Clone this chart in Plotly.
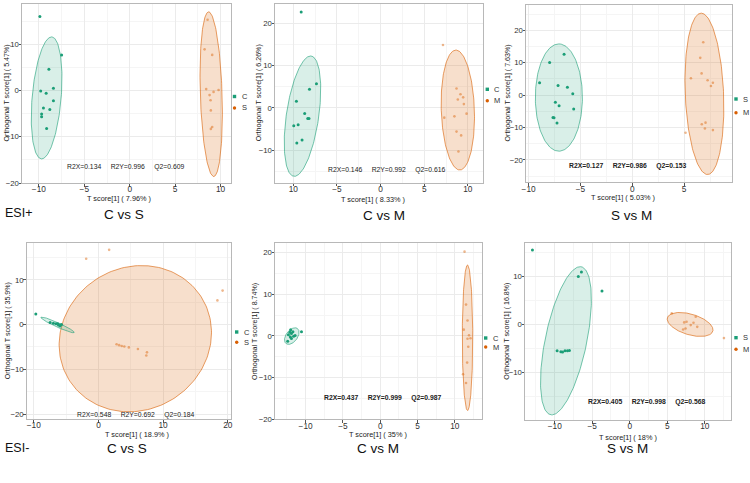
import numpy as np
import plotly.graph_objects as go

# ---------------- data ----------------
ROW_LABELS = ["ESI+", "ESI-"]
TITLES = ["C vs S", "C vs M", "S vs M", "C vs S", "C vs M", "S vs M"]
GROUPS = [["C", "S"], ["C", "M"], ["S", "M"], ["C", "S"], ["C", "M"], ["S", "M"]]
X_TITLES = ["T score[1] ( 7.96% )", "T score[1] ( 8.33% )", "T score[1] ( 5.03% )",
            "T score[1] ( 18.9% )", "T score[1] ( 35% )", "T score[1] ( 18% )"]
Y_TITLES = ["Orthogonal T score[1] ( 5.47%)", "Orthogonal T score[1] ( 6.26%)",
            "Orthogonal T score[1] ( 7.63%)", "Orthogonal T score[1] ( 35.9%)",
            "Orthogonal T score[1] ( 8.74%)", "Orthogonal T score[1] ( 16.8%)"]
R2X = [0.134, 0.146, 0.127, 0.548, 0.437, 0.405]
R2Y = [0.996, 0.992, 0.986, 0.692, 0.999, 0.998]
Q2 = [0.609, 0.616, 0.153, 0.184, 0.987, 0.568]

# panel 1: C vs S (ESI+)
P1_GX = [-9.89, -7.5, -8.9, -9.8, -9.2, -8.4, -8.4, -9.5, -8.8, -9.7, -9.7, -9.15]
P1_GY = [16.0, 7.7, 4.6, -0.1, -0.6, 0.5, -2.2, -3.8, -4.1, -5.1, -5.7, -8.2]
P1_OX = [8.57, 8.24, 9.08, 8.42, 9.78, 9.23, 8.79, 8.9, 8.93, 9.08, 8.93]
P1_OY = [15.3, 8.9, 7.7, 0.3, 0.1, -0.3, -1.0, -2.1, -4.3, -7.9, -8.3]
# ellipses: centre x, centre y, semi-major, semi-minor, angle (deg)
P1_GELL = [-9.15, -1.6, 13.2, 1.6, 87.6]
P1_OELL = [8.97, -0.8, 17.8, 1.2, 90.9]

# panel 2: C vs M (ESI+)
P2_GX = [-9.1, -7.35, -8.15, -9.65, -8.7, -8.35, -8.2, -9.45, -9.95, -9.0, -9.6]
P2_GY = [22.7, 5.7, 4.4, 1.6, -1.3, -2.5, -2.5, -4.0, -4.2, -7.6, -8.3]
P2_OX = [7.15, 8.7, 9.15, 8.85, 9.46, 9.54, 9.85, 8.46, 7.3, 8.7, 9.23, 8.92]
P2_OY = [14.9, 4.6, 3.25, 2.0, 2.5, 0.9, -1.35, -2.0, -2.3, -5.6, -6.5, -10.3]
P2_GELL = [-8.95, -1.95, 14.28, 1.87, 86.2]
P2_OELL = [8.85, -0.5, 14.2, 1.9, 90.9]

# panel 3: S vs M (ESI+)
P3_GX = [-6.58, -7.97, -8.94, -7.16, -6.26, -5.74, -7.42, -7.06, -5.65, -7.65, -7.55, -7.26]
P3_GY = [12.6, 10.1, 3.8, 3.0, 2.4, 0.4, -2.2, -3.3, -4.3, -6.9, -7.0, -8.6]
P3_OX = [6.84, 6.55, 6.68, 5.65, 7.26, 7.77, 7.58, 7.06, 6.7, 7.0, 7.77, 5.13]
P3_OY = [16.3, 11.5, 6.7, 5.2, 4.6, 3.8, 2.8, -8.5, -9.0, -10.3, -10.8, -11.6]
P3_GELL = [-7.08, -0.75, 16.55, 2.27, 90.0]
P3_OELL = [6.95, 0.4, 24.9, 1.85, 90.7]

# panel 4: C vs S (ESI-)
P4_GX = [-9.69, -7.48, -6.97, -6.55, -6.19, -5.93, -5.73, -6.3, -6.0]
P4_GY = [2.39, 0.45, 0.31, 0.16, -0.07, -0.29, 0.0, 0.2, -0.1]
P4_OX = [-1.9, 1.65, 19.2, 18.4, 2.8, 3.2, 3.6, 4.0, 4.7, 6.1, 7.5, 7.4]
P4_OY = [14.7, 16.7, 7.6, 5.4, -4.4, -4.6, -4.8, -4.9, -5.1, -5.45, -6.2, -6.9]
P4_GELL = [-6.33, -0.07, 3.09, 0.45, -33.8]
P4_OELL = [5.7, -3.15, 16.4, 11.7, 83.0]

# panel 5: C vs M (ESI-)
P5_GX = [-12.3, -12.1, -12.0, -11.9, -11.7, -12.05, -11.6, -11.9, -12.4, -11.4, -10.55]
P5_GY = [0.3, 0.9, 1.5, 0.55, 1.0, -0.25, -0.1, -0.6, -1.3, 0.1, 1.0]
P5_OX = [11.3, 11.5, 11.7, 11.2, 11.9, 12.1, 11.7, 11.8, 11.65, 11.1, 11.5]
P5_OY = [20.2, 7.5, 3.7, 1.5, 0.15, -0.55, -0.7, -2.6, -6.4, -9.2, -11.3]
P5_GELL = [-11.85, -0.05, 2.05, 0.85, 75.0]
P5_OELL = [11.7, -0.45, 17.45, 0.7, 90.0]

# panel 6: S vs M (ESI-)
P6_GX = [-12.97, -6.44, -6.85, -3.7, -9.68, -9.18, -8.95, -8.63, -8.3, -8.04]
P6_GY = [15.5, 10.9, 10.0, 6.95, -5.46, -5.67, -5.74, -5.46, -5.46, -5.4]
P6_OX = [7.26, 7.58, 8.13, 8.5, 8.8, 9.0, 7.44, 7.12, 5.6, 12.56]
P6_OY = [0.43, 0.57, -0.14, 0.35, 1.6, -0.5, -0.85, -1.06, 2.3, -2.84]
P6_GELL = [-8.5, -3.4, 15.55, 2.8, 82.8]
P6_OELL = [8.05, 0.0, 3.4, 2.0, -33.0]

# tick values / labels
X_TICKS = [[-10, -5, 0, 5, 10], [-10, -5, 0, 5, 10], [-10, -5, 0, 5],
           [-10, 0, 10, 20], [-10, -5, 0, 5, 10], [-10, -5, 0, 5, 10]]
X_TICKTEXT = [["−10", "−5", "0", "5", "10"], ["10", "−5", "0", "5", "10"],
              ["−10", "−5", "0", "5"], ["−10", "0", "10", "20"],
              ["−10", "−5", "0", "5", "10"], ["−10", "−5", "0", "5", "10"]]
Y_TICKS = [[-20, -10, 0, 10], [-10, 0, 10, 20], [-20, -10, 0, 10, 20],
           [-20, -10, 0, 10], [-20, -10, 0, 10, 20], [-10, 0, 10]]
Y_TICKTEXT = [["−20", "−10", "0", "10"], ["−10", "0", "10", "20"],
              ["−20", "−10", "0", "10", "20"], ["−20", "−10", "0", "10"],
              ["−20", "−10", "0", "10", "20"], ["−10", "0", "10"]]

# ---------------- layout (pixels) ----------------
W, H = 750, 483
X_RANGES = [[-11.86, 11.15], [-12.1, 11.7], [-10.25, 9.64], [-11.1, 20.5], [-14.1, 13.6], [-13.96, 13.5]]
Y_RANGES = [[-20, 18.7], [-17.7, 24.6], [-26.9, 27.9], [-21.1, 18.3], [-20, 22.2], [-19.9, 16.9]]
BOXES = [(22, 231, 4, 183), (275, 482.7, 4, 182.7), (526, 732.3, 4.7, 182.3),
         (26.7, 231, 242.7, 419), (275, 481.7, 243.3, 419.3), (525, 731, 243.3, 420)]
STAT_POS = [(-0.4, -16.6), (0.7, -14.7), (-0.42, -21.9), (5.8, -20.2), (0.32, -14.9), (2.28, -16.2)]
STAT_BOLD = [False, False, True, False, True, True]
XT_POS = [(119, 199), (373, 200), (623, 197), (137, 434), (378, 434), (628, 437)]
YT_X = [7, 259, 508, 8.3, 255.7, 507]
TITLE_POS = [(124, 214), (383.5, 215), (631, 215), (126.7, 448.3), (378.3, 448.3), (627, 448.3)]
LEG_POS = [(234.5, 96.5, 108), (487.3, 89.3, 100.7), (736, 99, 112.7),
           (236.7, 332, 342.3), (485.7, 338, 347), (736, 337.7, 349.3)]

GREEN = "#1B9E77"
ORANGE = "#D95F02"
FONT = "Liberation Sans, Arial, sans-serif"

GX = [P1_GX, P2_GX, P3_GX, P4_GX, P5_GX, P6_GX]
GY = [P1_GY, P2_GY, P3_GY, P4_GY, P5_GY, P6_GY]
OX = [P1_OX, P2_OX, P3_OX, P4_OX, P5_OX, P6_OX]
OY = [P1_OY, P2_OY, P3_OY, P4_OY, P5_OY, P6_OY]
GELL = [P1_GELL, P2_GELL, P3_GELL, P4_GELL, P5_GELL, P6_GELL]
OELL = [P1_OELL, P2_OELL, P3_OELL, P4_OELL, P5_OELL, P6_OELL]


def ellipse(p, n=180):
    cx, cy, a, b, ang = p
    t = np.linspace(0, 2 * np.pi, n)
    phi = np.deg2rad(ang)
    x = cx + a * np.cos(t) * np.cos(phi) - b * np.sin(t) * np.sin(phi)
    y = cy + a * np.cos(t) * np.sin(phi) + b * np.sin(t) * np.cos(phi)
    return x, y


def px(x):
    return x / W


def py(y):
    return 1 - y / H


def minor_vals(ticks):
    step = ticks[1] - ticks[0]
    out = []
    for v in range(-4, len(ticks) + 4):
        out.append(ticks[0] + (v + 0.5) * step)
    return out


def note(x, y, text, size, color="#222", xanchor="center", angle=0, xref="paper", yref="paper"):
    return dict(x=x, y=y, xref=xref, yref=yref, text=text, showarrow=False,
                xanchor=xanchor, yanchor="middle", textangle=angle,
                font=dict(family=FONT, size=size, color=color))


fig = go.Figure()
annotations = []
shapes = []

for i in range(6):
    k = "" if i == 0 else str(i + 1)
    xa, ya = "x" + k, "y" + k
    # ellipses (orange first, green on top)
    ex, ey = ellipse(OELL[i])
    fig.add_trace(go.Scatter(x=ex, y=ey, mode="lines", fill="toself",
                             fillcolor="rgba(217,95,2,0.2)",
                             line=dict(color="rgba(217,95,2,0.6)", width=1),
                             hoverinfo="skip", showlegend=False, xaxis=xa, yaxis=ya))
    ex, ey = ellipse(GELL[i])
    fig.add_trace(go.Scatter(x=ex, y=ey, mode="lines", fill="toself",
                             fillcolor="rgba(27,158,119,0.17)",
                             line=dict(color="rgba(27,158,119,0.6)", width=1),
                             hoverinfo="skip", showlegend=False, xaxis=xa, yaxis=ya))
    fig.add_trace(go.Scatter(x=OX[i], y=OY[i], mode="markers",
                             marker=dict(color="rgba(217,95,2,0.45)", size=2.6),
                             showlegend=False, xaxis=xa, yaxis=ya, name=GROUPS[i][1]))
    fig.add_trace(go.Scatter(x=GX[i], y=GY[i], mode="markers",
                             marker=dict(color=GREEN, size=3.0),
                             showlegend=False, xaxis=xa, yaxis=ya, name=GROUPS[i][0]))

    x0, x1, y0, y1 = BOXES[i]
    common = dict(showline=True, mirror=True, linecolor="#B8B8B8", linewidth=1,
                  showgrid=True, gridcolor="#EBEBEB", gridwidth=0.8, zeroline=False,
                  ticks="outside", ticklen=2.5, tickcolor="#555", tickwidth=0.8,
                  automargin=False)
    fig.layout["xaxis" + k] = dict(
        domain=[px(x0), px(x1)], anchor=ya, range=X_RANGES[i],
        tickmode="array", tickvals=X_TICKS[i], ticktext=X_TICKTEXT[i],
        ticklabelstandoff=-4,
        tickfont=dict(family=FONT, size=8.3, color="#333"),
        minor=dict(tickmode="array", tickvals=minor_vals(X_TICKS[i]), showgrid=True,
                   gridcolor="#F5F5F5", gridwidth=0.6, ticks=""),
        **common)
    fig.layout["yaxis" + k] = dict(
        domain=[py(y1), py(y0)], anchor=xa, range=Y_RANGES[i],
        tickmode="array", tickvals=Y_TICKS[i], ticktext=Y_TICKTEXT[i],
        ticklabelstandoff=-2,
        tickfont=dict(family=FONT, size=7.8, color="#333"),
        minor=dict(tickmode="array", tickvals=minor_vals(Y_TICKS[i]), showgrid=True,
                   gridcolor="#F5F5F5", gridwidth=0.6, ticks=""),
        **common)

    # stats text
    sp = "\u00a0" * 5
    txt = f"R2X={R2X[i]:.3f}{sp}R2Y={R2Y[i]:.3f}{sp}Q2={Q2[i]:.3f}"
    if STAT_BOLD[i]:
        txt = "<b>" + txt + "</b>"
    annotations.append(note(STAT_POS[i][0], STAT_POS[i][1], txt, 6.8, xref=xa, yref=ya))
    # axis titles
    annotations.append(note(px(XT_POS[i][0]), py(XT_POS[i][1]), X_TITLES[i], 7.3))
    annotations.append(note(px(YT_X[i]), py((y0 + y1) / 2), Y_TITLES[i], 7.1, angle=-90))
    # panel titles
    annotations.append(note(px(TITLE_POS[i][0]), py(TITLE_POS[i][1]), TITLES[i], 13.5, "#111"))
    # legend keys
    lx, ly1, ly2 = LEG_POS[i]
    r = 1.7
    shapes.append(dict(type="rect", xref="paper", yref="paper",
                       x0=px(lx - r), x1=px(lx + r), y0=py(ly1 + r), y1=py(ly1 - r),
                       fillcolor=GREEN, line=dict(width=0)))
    shapes.append(dict(type="circle", xref="paper", yref="paper",
                       x0=px(lx - r), x1=px(lx + r), y0=py(ly2 + r), y1=py(ly2 - r),
                       fillcolor=ORANGE, line=dict(width=0)))
    for g, ly in zip(GROUPS[i], [ly1, ly2]):
        annotations.append(note(px(lx + 5), py(ly), g, 7.5, "#333", xanchor="left"))

# row labels
for lab, yy in zip(ROW_LABELS, [213.5, 448.3]):
    annotations.append(note(px(2.5), py(yy), lab, 12.5, "#111", xanchor="left"))

fig.update_layout(width=W, height=H, margin=dict(l=0, r=0, t=0, b=0, autoexpand=False),
                  paper_bgcolor="white", plot_bgcolor="white",
                  showlegend=False, annotations=annotations, shapes=shapes,
                  font=dict(family=FONT), hovermode=False)

fig.write_html("out.html", config={"displayModeBar": False},
               post_script="document.body.style.margin='0';document.body.style.overflow='hidden';")
